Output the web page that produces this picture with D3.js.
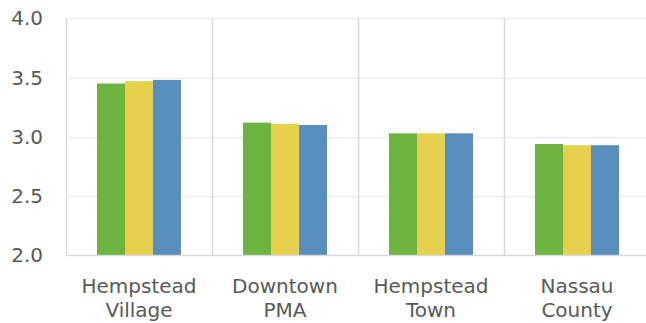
<!DOCTYPE html>
<html><head><meta charset="utf-8">
<script src="https://cdn.jsdelivr.net/npm/d3@7"></script>
<style>html,body{margin:0;padding:0;background:#fff;}svg{display:block;}</style>
</head><body>
<script>
const categories = [["Hempstead","Village"],["Downtown","PMA"],["Hempstead","Town"],["Nassau","County"]];
const seriesNames = ["Series 1","Series 2","Series 3"];
const series1 = [3.45, 3.12, 3.03, 2.94];
const series2 = [3.47, 3.11, 3.03, 2.93];
const series3 = [3.48, 3.10, 3.03, 2.93];
const yTicks = [2.0, 2.5, 3.0, 3.5, 4.0];
const colors = ["#6db33f","#e6d04e","#588ebe"];

(function(){
const W = 646, H = 323;
const svg = d3.select("body").append("svg").attr("width", W).attr("height", H);
const mLeft = 66, mRight = 650, mTop = 18.3, mBottom = 255.5;
const catIdx = categories.map((d,i)=>i);
const x0 = d3.scaleBand().domain(catIdx).range([mLeft, mRight]).padding(0);
const bw = x0.bandwidth();
const x1 = d3.scaleBand().domain(seriesNames).range([bw*0.2125, bw*0.7875]).padding(0);
const y = d3.scaleLinear().domain([2, 4]).range([mBottom, mTop]);
const data = [series1, series2, series3];
const font = "DejaVu Sans, sans-serif";

// horizontal gridlines
svg.append("g").selectAll("line").data(yTicks.slice(1)).join("line")
  .attr("x1", mLeft).attr("x2", mRight)
  .attr("y1", d=>Math.round(y(d))+0.5).attr("y2", d=>Math.round(y(d))+0.5)
  .attr("stroke", "#ececec").attr("stroke-width", 1.5);

// vertical separators
svg.append("g").selectAll("line").data(d3.range(categories.length)).join("line")
  .attr("x1", d=>Math.round(x0(d))+0.5).attr("x2", d=>Math.round(x0(d))+0.5)
  .attr("y1", mTop).attr("y2", mBottom)
  .attr("stroke", "#d9d9d9").attr("stroke-width", 1.5);

// bars
const groups = svg.append("g").selectAll("g").data(catIdx).join("g")
  .attr("transform", d=>`translate(${x0(d)},0)`);
groups.selectAll("rect").data(i=>seriesNames.map((s,j)=>({s, j, v:data[j][i]}))).join("rect")
  .attr("x", d=>x1(d.s)).attr("width", x1.bandwidth())
  .attr("y", d=>y(d.v)).attr("height", d=>y(2)-y(d.v))
  .attr("fill", d=>colors[d.j]);

// baseline
svg.append("line").attr("x1", mLeft).attr("x2", mRight)
  .attr("y1", mBottom).attr("y2", mBottom)
  .attr("stroke", "#d9d9d9").attr("stroke-width", 1.5);

// y axis labels
const yAxis = d3.axisLeft(y).tickValues(yTicks).tickFormat(d3.format(".1f")).tickSize(0).tickPadding(23);
const ya = svg.append("g").attr("transform", `translate(${mLeft},0)`).call(yAxis);
ya.select(".domain").remove();
ya.selectAll("text").attr("font-family", font).attr("font-size", 20).attr("fill", "#595959");

// x labels
const xl = svg.append("g").selectAll("text").data(catIdx).join("text")
  .attr("x", d=>x0(d)+bw/2).attr("y", 293)
  .attr("text-anchor", "middle").attr("font-family", font).attr("font-size", 20).attr("fill", "#595959");
xl.selectAll("tspan").data(d=>categories[d]).join("tspan")
  .attr("x", function(){return d3.select(this.parentNode).attr("x");})
  .attr("dy", (d,i)=>i===0?0:24).text(d=>d);
})();
</script>
</body></html>
